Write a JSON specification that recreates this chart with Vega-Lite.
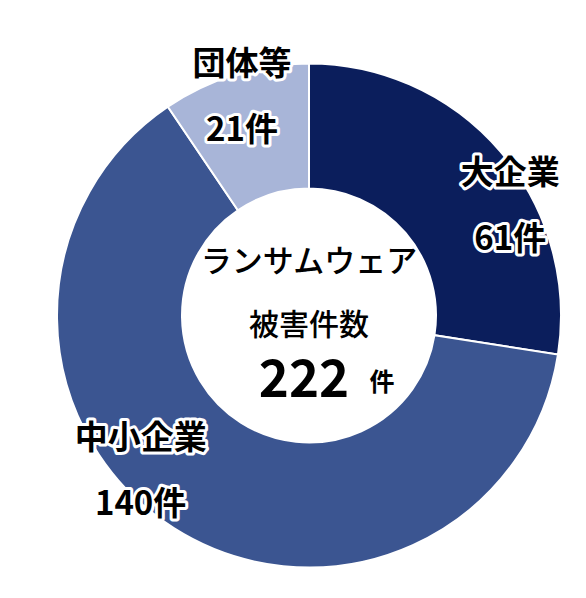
{
  "$schema": "https://vega.github.io/schema/vega-lite/v6.json",
  "width": 554,
  "height": 565,
  "autosize": "none",
  "padding": {"left": 32, "top": 33, "right": 0, "bottom": 0},
  "background": "white",
  "config": {
    "view": {"stroke": null},
    "text": {"font": "Noto Sans CJK JP"}
  },
  "data": {
    "values": [
      {"category": "大企業", "count": 61, "rank": 1},
      {"category": "中小企業", "count": 140, "rank": 2},
      {"category": "団体等", "count": 21, "rank": 3}
    ]
  },
  "layer": [
    {
      "mark": {"type": "arc", "innerRadius": 127, "outerRadius": 252, "stroke": "white", "strokeWidth": 2},
      "encoding": {
        "theta": {"field": "count", "type": "quantitative", "stack": true},
        "order": {"field": "rank", "type": "quantitative"},
        "color": {
          "field": "category",
          "type": "nominal",
          "scale": {"domain": ["大企業", "中小企業", "団体等"], "range": ["#0b1e5c", "#3b5591", "#a8b5d8"]},
          "legend": null
        }
      }
    },
    {
      "transform": [{"calculate": "datum.category + '\\n' + datum.count + '件'", "as": "label"}],
      "mark": {
        "type": "text",
        "radius": 229,
        "thetaOffset": {"expr": "datum.category == '大企業' ? 0.21 : datum.category == '中小企業' ? 0.26 : 0"},
        "dy": -32,
        "lineBreak": "\n",
        "lineHeight": 66,
        "fontSize": 33,
        "fontWeight": "bold",
        "fill": "white",
        "stroke": "white",
        "strokeWidth": 6,
        "strokeJoin": "round"
      },
      "encoding": {
        "theta": {"field": "count", "type": "quantitative", "stack": true},
        "order": {"field": "rank", "type": "quantitative"},
        "text": {"field": "label"}
      }
    },
    {
      "transform": [{"calculate": "datum.category + '\\n' + datum.count + '件'", "as": "label"}],
      "mark": {
        "type": "text",
        "radius": 229,
        "thetaOffset": {"expr": "datum.category == '大企業' ? 0.21 : datum.category == '中小企業' ? 0.26 : 0"},
        "dy": -32,
        "lineBreak": "\n",
        "lineHeight": 66,
        "fontSize": 33,
        "fontWeight": "bold",
        "fill": "black"
      },
      "encoding": {
        "theta": {"field": "count", "type": "quantitative", "stack": true},
        "order": {"field": "rank", "type": "quantitative"},
        "text": {"field": "label"}
      }
    },
    {
      "data": {"values": [{"line": "ランサムウェア"}]},
      "mark": {"type": "text", "dy": -53, "fontSize": 31, "fontWeight": 500, "fill": "black"},
      "encoding": {"text": {"field": "line"}}
    },
    {
      "data": {"values": [{"line": "被害件数"}]},
      "mark": {"type": "text", "dy": 10, "fontSize": 30, "fontWeight": 500, "fill": "black"},
      "encoding": {"text": {"field": "line"}}
    },
    {
      "transform": [{"aggregate": [{"op": "sum", "field": "count", "as": "total"}]}],
      "mark": {"type": "text", "dx": -5, "dy": 66, "fontSize": 51, "fontWeight": "bold", "fill": "black"},
      "encoding": {"text": {"field": "total", "type": "quantitative"}}
    },
    {
      "data": {"values": [{"unit": "件"}]},
      "mark": {"type": "text", "dx": 73, "dy": 67, "fontSize": 25, "fontWeight": "bold", "fill": "black"},
      "encoding": {"text": {"field": "unit"}}
    }
  ]
}
